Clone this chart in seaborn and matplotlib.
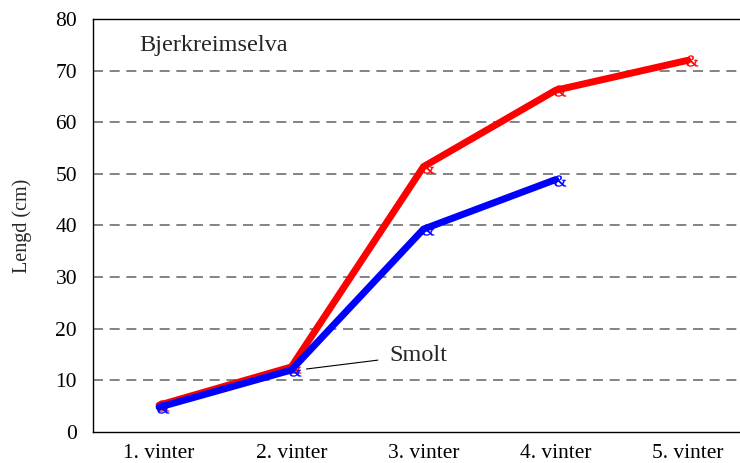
import matplotlib
matplotlib.use("Agg")
import matplotlib.pyplot as plt
import seaborn as sns
import pandas as pd
from matplotlib.textpath import TextPath
from matplotlib.font_manager import FontProperties
from matplotlib.path import Path

categories = ["1. vinter", "2. vinter", "3. vinter", "4. vinter", "5. vinter"]
red_values = [5.2, 12.6, 51.4, 66.2, 72.0]
blue_values = [4.8, 12.0, 39.3, 48.9]
series_names = ["Serie 1", "Serie 2"]
colors = ["#FF0000", "#0000FF"]

rows = []
for name, vals in zip(series_names, [red_values, blue_values]):
    for i, v in enumerate(vals):
        rows.append({"pos": i, "Vinter": categories[i], "Lengd": v, "serie": name})
df = pd.DataFrame(rows)

sns.set_theme(style="white")
plt.rcParams["font.family"] = ["Liberation Serif", "DejaVu Serif"]

# "&" glyph marker, offset slightly right of the data point (as in the reference)
amp = TextPath((0, 0), "&", prop=FontProperties(family="Liberation Serif"))
verts = amp.vertices.copy()
w = verts[:, 0].max() - verts[:, 0].min()
h = verts[:, 1].max() - verts[:, 1].min()
verts[:, 0] -= verts[:, 0].min() + 0.2 * w
verts[:, 1] -= verts[:, 1].min() + 0.55 * h
amp_marker = Path(verts, amp.codes)

fig = plt.figure(figsize=(7.4, 4.63), dpi=100)
ax = fig.add_axes([93/740, (463-432)/463, (754-93)/740, (432-19)/463])

sns.lineplot(data=df, x="pos", y="Lengd", hue="serie", palette=colors,
             linewidth=5, marker=amp_marker, markersize=14, markeredgewidth=0.3,
             legend=False, ax=ax, sort=False)
for line, c in zip(ax.get_lines(), colors):
    line.set_markerfacecolor(c)
    line.set_markeredgecolor(c)
    line.set_solid_joinstyle("miter")

ax.set_xlim(-0.5, 4.5)
ax.set_ylim(0, 80)
ax.set_yticks(range(0, 81, 10))
ax.set_xticks(range(len(categories)))
ax.set_xticklabels(categories)
ax.tick_params(axis="y", labelsize=15.5, length=0, pad=11.5, colors="black")
ax.tick_params(axis="x", labelsize=15.5, length=0, pad=9, colors="black")
ax.set_xlabel("")
ax.set_ylabel("Lengd (cm)", fontsize=14.5, labelpad=17)
for y in range(10, 80, 10):
    ax.axhline(y, color="#6E6E6E", linestyle=(0, (6, 4)), linewidth=1.2, zorder=0)
for s in ax.spines.values():
    s.set_color("black")
    s.set_linewidth(1.0)

ax.text(0.07, 0.935, "Bjerkreimselva", transform=ax.transAxes, fontsize=17.5,
        ha="left", va="center")
ax.annotate("Smolt", xy=(1.114, 12.2), xytext=(1.742, 14.9), fontsize=17.5,
            ha="left", va="center",
            arrowprops=dict(arrowstyle="-", color="black", lw=0.8,
                            shrinkA=6, shrinkB=0))

fig.savefig("out.png", dpi=100)
